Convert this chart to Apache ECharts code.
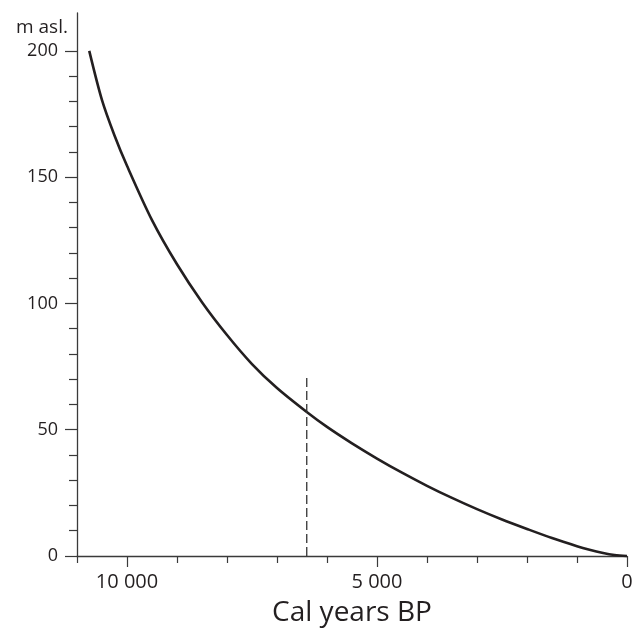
<!DOCTYPE html>
<html>
<head>
<meta charset="utf-8">
<script src="https://cdn.jsdelivr.net/npm/echarts@6/dist/echarts.min.js"></script>
<style>
html,body{margin:0;padding:0;background:#fff;}
#chart{width:643px;height:632px;}
</style>
</head>
<body>
<div id="chart"></div>
<script>
// Data
const years = [10755, 10500, 10250, 10000, 9500, 9000, 8500, 8000, 7500, 7000, 6405, 6000, 5500, 5000, 4500, 4000, 3500, 3000, 2500, 2000, 1500, 1000, 750, 500, 250, 0];
const elevation = [200, 180.5, 166.5, 154.5, 133, 115.5, 100.5, 87.5, 76, 66.5, 57, 51.1, 44.6, 38.6, 33.0, 27.8, 23.0, 18.55, 14.45, 10.7, 7.1, 3.9, 2.5, 1.3, 0.4, 0];
const markerYear = 6405;
const markerElev = [0, 71];
const xMajorTicks = [0, 5000, 10000];
const xMinorTicks = [1000, 2000, 3000, 4000, 6000, 7000, 8000, 9000, 11000];
const yMajorTicks = [0, 50, 100, 150, 200];
const yMinorTicks = [10, 20, 30, 40, 60, 70, 80, 90, 110, 120, 130, 140, 160, 170, 180, 190];
const xTitle = 'Cal years BP';
const yTitle = 'm asl.';

const FONT = 'Open Sans';
const INK = '#231f20';

const curve = years.map((y, i) => [y, elevation[i]]);
const marker = markerElev.map(v => [markerYear, v]);

const fmt = v => {
  const s = String(Math.round(v));
  return s.replace(/\B(?=(\d{3})+(?!\d))/g, ' ');
};

const chart = echarts.init(document.getElementById('chart'), null, {renderer: 'canvas'});
chart.setOption({
  animation: false,
  backgroundColor: '#fff',
  title: {
    text: yTitle,
    left: 11,
    top: 13,
    textStyle: {fontFamily: FONT, fontSize: 19, fontWeight: 'normal', color: INK}
  },
  grid: {left: 77, right: 16, top: 13, bottom: 76, containLabel: false},
  xAxis: [
    {
      type: 'value', min: 0, max: 11000, inverse: true, position: 'bottom',
      axisLine: {show: true, onZero: false, lineStyle: {color: '#3a3a3a', width: 1.3}},
      axisTick: {show: true, customValues: xMajorTicks, length: 11, lineStyle: {color: '#3a3a3a', width: 1.2}},
      axisLabel: {customValues: xMajorTicks, formatter: fmt, fontFamily: FONT, fontSize: 20, color: INK, margin: 16},
      splitLine: {show: false},
      name: xTitle, nameLocation: 'middle', nameGap: 43,
      nameTextStyle: {fontFamily: FONT, fontSize: 28, color: INK}
    },
    {
      type: 'value', min: 0, max: 11000, inverse: true, position: 'bottom',
      axisLine: {show: false, onZero: false},
      axisTick: {show: true, customValues: xMinorTicks, length: 7, lineStyle: {color: '#3a3a3a', width: 1.2}},
      axisLabel: {show: false},
      splitLine: {show: false}
    }
  ],
  yAxis: [
    {
      type: 'value', min: 0, max: 215, position: 'left',
      axisLine: {show: true, onZero: false, lineStyle: {color: '#3a3a3a', width: 1.3}},
      axisTick: {show: true, customValues: yMajorTicks, length: 12, lineStyle: {color: '#3a3a3a', width: 1.2}},
      axisLabel: {customValues: yMajorTicks, fontFamily: FONT, fontSize: 18, color: INK, margin: 19},
      splitLine: {show: false}
    },
    {
      type: 'value', min: 0, max: 215, position: 'left',
      axisLine: {show: false, onZero: false},
      axisTick: {show: true, customValues: yMinorTicks, length: 8, lineStyle: {color: '#3a3a3a', width: 1.2}},
      axisLabel: {show: false},
      splitLine: {show: false}
    }
  ],
  series: [
    {
      type: 'line', data: curve, xAxisIndex: 0, yAxisIndex: 0,
      smooth: 0.3, showSymbol: false, clip: false,
      lineStyle: {color: INK, width: 2.6}
    },
    {
      type: 'line', data: marker, xAxisIndex: 0, yAxisIndex: 0,
      showSymbol: false, clip: false,
      lineStyle: {color: '#333', width: 1.3, type: [9, 4]}
    }
  ]
});
</script>
</body>
</html>
